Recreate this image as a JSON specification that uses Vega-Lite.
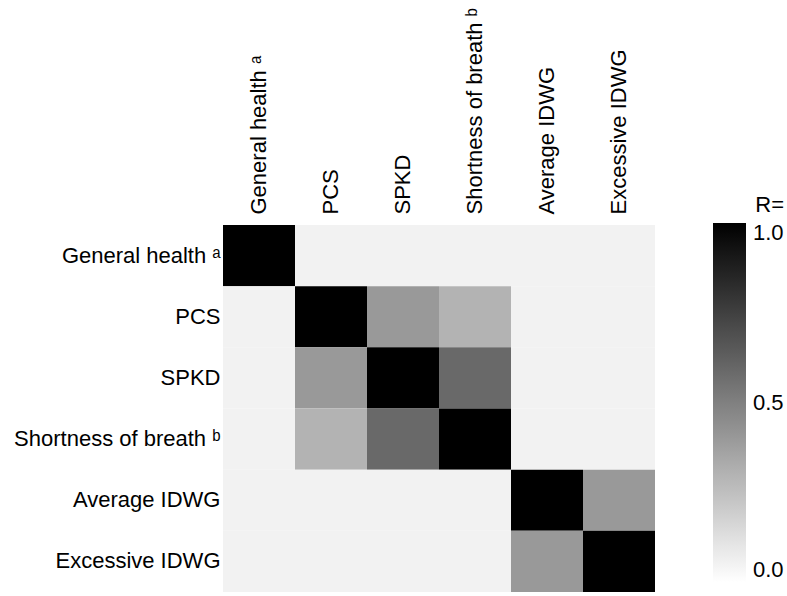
{
  "$schema": "https://vega.github.io/schema/vega-lite/v6.json",
  "autosize": {"type": "none"},
  "padding": {"left": 223, "top": 225, "right": 132, "bottom": 4},
  "width": 432,
  "height": 367,
  "background": "white",
  "data": {
    "values": [
      {"row": "General health ᵃ", "col": "General health ᵃ", "r": 1},
      {"row": "General health ᵃ", "col": "PCS", "r": 0.05},
      {"row": "General health ᵃ", "col": "SPKD", "r": 0.05},
      {"row": "General health ᵃ", "col": "Shortness of breath ᵇ", "r": 0.05},
      {"row": "General health ᵃ", "col": "Average IDWG", "r": 0.05},
      {"row": "General health ᵃ", "col": "Excessive IDWG", "r": 0.05},
      {"row": "PCS", "col": "General health ᵃ", "r": 0.05},
      {"row": "PCS", "col": "PCS", "r": 1},
      {"row": "PCS", "col": "SPKD", "r": 0.4},
      {"row": "PCS", "col": "Shortness of breath ᵇ", "r": 0.3},
      {"row": "PCS", "col": "Average IDWG", "r": 0.05},
      {"row": "PCS", "col": "Excessive IDWG", "r": 0.05},
      {"row": "SPKD", "col": "General health ᵃ", "r": 0.05},
      {"row": "SPKD", "col": "PCS", "r": 0.4},
      {"row": "SPKD", "col": "SPKD", "r": 1},
      {"row": "SPKD", "col": "Shortness of breath ᵇ", "r": 0.59},
      {"row": "SPKD", "col": "Average IDWG", "r": 0.05},
      {"row": "SPKD", "col": "Excessive IDWG", "r": 0.05},
      {"row": "Shortness of breath ᵇ", "col": "General health ᵃ", "r": 0.05},
      {"row": "Shortness of breath ᵇ", "col": "PCS", "r": 0.3},
      {"row": "Shortness of breath ᵇ", "col": "SPKD", "r": 0.59},
      {"row": "Shortness of breath ᵇ", "col": "Shortness of breath ᵇ", "r": 1},
      {"row": "Shortness of breath ᵇ", "col": "Average IDWG", "r": 0.05},
      {"row": "Shortness of breath ᵇ", "col": "Excessive IDWG", "r": 0.05},
      {"row": "Average IDWG", "col": "General health ᵃ", "r": 0.05},
      {"row": "Average IDWG", "col": "PCS", "r": 0.05},
      {"row": "Average IDWG", "col": "SPKD", "r": 0.05},
      {"row": "Average IDWG", "col": "Shortness of breath ᵇ", "r": 0.05},
      {"row": "Average IDWG", "col": "Average IDWG", "r": 1},
      {"row": "Average IDWG", "col": "Excessive IDWG", "r": 0.4},
      {"row": "Excessive IDWG", "col": "General health ᵃ", "r": 0.05},
      {"row": "Excessive IDWG", "col": "PCS", "r": 0.05},
      {"row": "Excessive IDWG", "col": "SPKD", "r": 0.05},
      {"row": "Excessive IDWG", "col": "Shortness of breath ᵇ", "r": 0.05},
      {"row": "Excessive IDWG", "col": "Average IDWG", "r": 0.4},
      {"row": "Excessive IDWG", "col": "Excessive IDWG", "r": 1}
    ]
  },
  "mark": {"type": "rect"},
  "encoding": {
    "x": {
      "field": "col", "type": "nominal",
      "sort": ["General health ᵃ", "PCS", "SPKD", "Shortness of breath ᵇ", "Average IDWG", "Excessive IDWG"],
      "scale": {"paddingInner": 0, "paddingOuter": 0},
      "axis": {"orient": "top", "title": null, "labelAngle": -90, "ticks": false, "domain": false, "labelPadding": 11, "labelFontSize": 22, "labelFont": "Liberation Sans", "labelColor": "#000000", "labelLimit": 300}
    },
    "y": {
      "field": "row", "type": "nominal",
      "sort": ["General health ᵃ", "PCS", "SPKD", "Shortness of breath ᵇ", "Average IDWG", "Excessive IDWG"],
      "scale": {"paddingInner": 0, "paddingOuter": 0},
      "axis": {"title": null, "ticks": false, "domain": false, "labelPadding": 3, "labelFontSize": 22, "labelFont": "Liberation Sans", "labelColor": "#000000", "labelLimit": 300}
    },
    "color": {
      "field": "r", "type": "quantitative",
      "scale": {"domain": [0, 1], "range": ["#ffffff", "#000000"], "interpolate": "rgb"},
      "legend": {
        "title": "R=",
        "orient": "none",
        "legendX": 490,
        "legendY": -30,
        "padding": 0,
        "gradientLength": 359,
        "gradientThickness": 33,
        "gradientStrokeWidth": 0,
        "values": [0, 0.5, 1],
        "format": ".1f",
        "labelFontSize": 22,
        "labelFont": "Liberation Sans",
        "labelColor": "#000000",
        "labelOffset": 7,
        "titleFontSize": 22,
        "titleFont": "Liberation Sans",
        "titleFontWeight": "normal",
        "titleColor": "#000000",
        "titleAnchor": "end",
        "titlePadding": 6
      }
    }
  },
  "config": {"view": {"stroke": null}}
}
